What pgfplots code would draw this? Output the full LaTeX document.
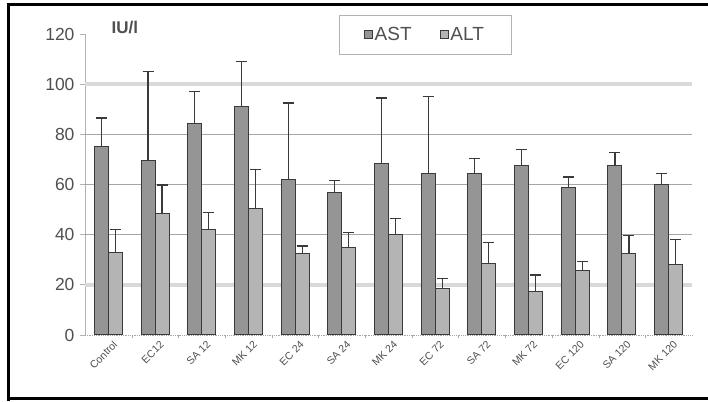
\documentclass[border=0pt]{standalone}
\usepackage{pgfplots}
\pgfplotsset{compat=1.18}
\usepackage{fontspec}
\setmainfont{Liberation Sans}
\definecolor{txt}{HTML}{505050}
\definecolor{astfill}{HTML}{959595}
\definecolor{altfill}{HTML}{B4B4B4}
\definecolor{edge}{HTML}{3A3A3A}
\begin{document}
\begin{tikzpicture}
\fill[white] (0pt,0pt) rectangle (708pt,401pt);
\begin{axis}[
  at={(85pt,66pt)}, anchor=south west,
  scale only axis, width=607pt, height=301pt,
  xmin=-0.5, xmax=12.5, ymin=0, ymax=120,
  axis y line*=left, axis x line*=bottom,
  y axis line style={draw=gray!60, line width=0.8pt},
  x axis line style={draw=gray!70, densely dotted, line width=0.8pt},
  ytick={0,20,...,120},
  ytick style={draw=gray!60, line width=0.8pt},
  major tick length=5pt,
  tick align=outside,
  /pgf/number format/assume math mode=true,
  xtick={0,...,12},
  xticklabels={Control,EC12,SA 12,MK 12,EC 24,SA 24,MK 24,EC 72,SA 72,MK 72,EC 120,SA 120,MK 120},
  x tick label style={rotate=45, anchor=north east, font=\fontsize{10.5}{12}\selectfont, text=txt, inner sep=1pt, xshift=4pt, yshift=-2pt},
  xtick style={draw=none},
  minor xtick={0.5,1.5,...,11.5},
  minor tick length=3pt,
  minor x tick style={draw=gray!70},
  y tick label style={font=\fontsize{17.5}{19}\selectfont, text=txt, xshift=-2pt},
  ybar=0pt, bar width=14pt,
  legend style={at={(0.56,0.997)}, anchor=center, legend columns=2,
    draw=gray!60, line width=0.8pt, font=\fontsize{19}{21}\selectfont, text=txt,
    inner xsep=25pt, inner ysep=10pt,
    /tikz/every even column/.append style={column sep=26pt}},
  legend image code/.code={\draw[#1, line width=0.8pt] (0pt,-4pt) rectangle (8pt,4pt);},
  clip=false,
]
\draw[gray!30, line width=4.5pt] (axis cs:-0.5,20) -- (axis cs:12.5,20);
\draw[gray!30, line width=4.5pt] (axis cs:-0.5,100) -- (axis cs:12.5,100);
\draw[gray!70, line width=0.6pt] (axis cs:-0.5,40) -- (axis cs:12.5,40);
\draw[gray!70, line width=0.6pt] (axis cs:-0.5,60) -- (axis cs:12.5,60);
\draw[gray!70, line width=0.6pt] (axis cs:-0.5,80) -- (axis cs:12.5,80);
\addplot[fill=astfill, draw=edge, line width=1pt,
  error bars/.cd, y dir=plus, y explicit,
  error bar style={draw=edge, line width=1.1pt},
  error mark options={rotate=90, mark size=5.5pt, line width=1.1pt, draw=edge}]
  coordinates {
  (0,75) +- (0,11.5)
  (1,69.5) +- (0,35.5)
  (2,84.5) +- (0,12.5)
  (3,91) +- (0,18)
  (4,62) +- (0,30.5)
  (5,57) +- (0,4.5)
  (6,68.5) +- (0,26)
  (7,64.5) +- (0,30.5)
  (8,64.5) +- (0,6)
  (9,67.4) +- (0,6.4)
  (10,59) +- (0,4)
  (11,67.4) +- (0,5.2)
  (12,60) +- (0,4.4)
  };
\addlegendentry{AST}
\addplot[fill=altfill, draw=edge, line width=1pt,
  error bars/.cd, y dir=plus, y explicit,
  error bar style={draw=edge, line width=1.1pt},
  error mark options={rotate=90, mark size=5.5pt, line width=1.1pt, draw=edge}]
  coordinates {
  (0,32.7) +- (0,9.3)
  (1,48.6) +- (0,11.2)
  (2,42.2) +- (0,6.8)
  (3,50.6) +- (0,15.2)
  (4,32.3) +- (0,3.2)
  (5,34.7) +- (0,6)
  (6,39.9) +- (0,6.7)
  (7,18.7) +- (0,4)
  (8,28.7) +- (0,8)
  (9,17.5) +- (0,6.4)
  (10,25.6) +- (0,3.6)
  (11,32.6) +- (0,6.9)
  (12,28.3) +- (0,9.6)
  };
\addlegendentry{ALT}
\node[anchor=west, text=txt, font=\fontsize{17}{19}\selectfont\bfseries] at (rel axis cs:0.038,1.02) {IU/l};
\end{axis}
\draw[black, line width=3pt] (8pt,0pt) -- (8pt,396.5pt);
\draw[black, line width=3pt] (6.5pt,396.5pt) -- (708pt,396.5pt);
\draw[black, line width=3pt] (6.5pt,2.5pt) -- (708pt,2.5pt);
\pgfresetboundingbox
\useasboundingbox (0pt,0pt) rectangle (708pt,401pt);
\end{tikzpicture}
\end{document}
